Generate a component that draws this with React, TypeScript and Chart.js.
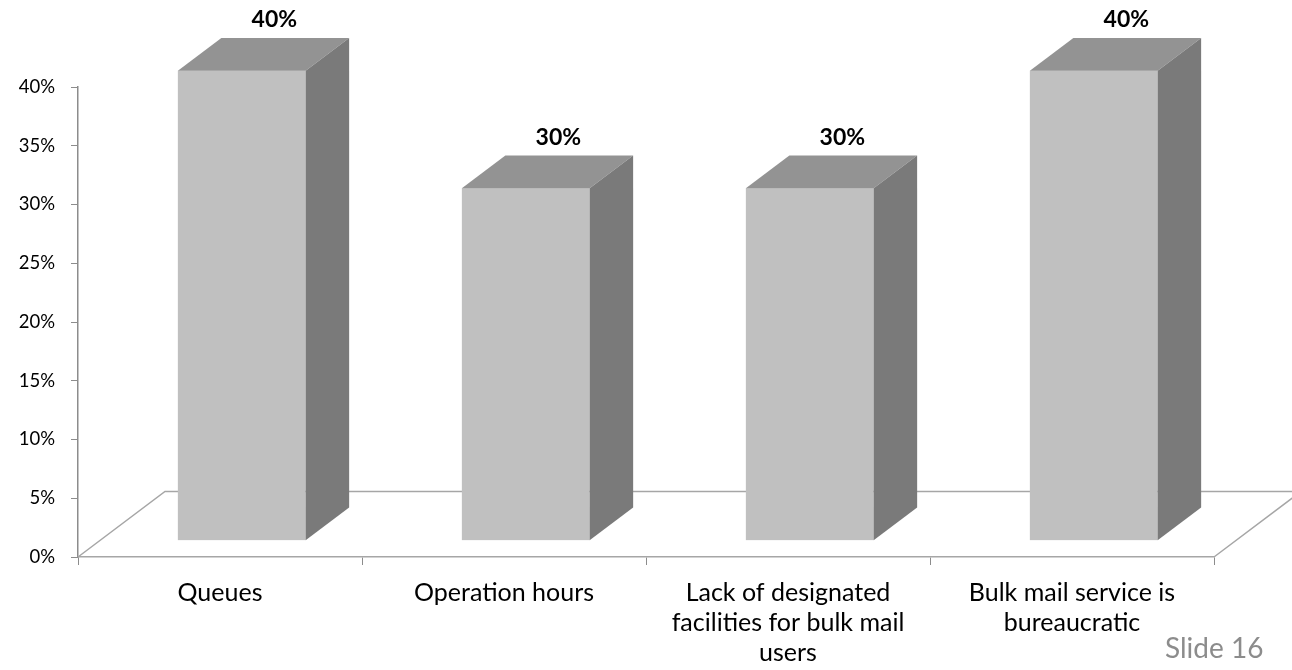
import React, { useEffect, useRef } from "react";
import { Chart, registerables } from "chart.js";

Chart.register(...registerables);

// Chart content
const categories: string[][] = [
  ["Queues"],
  ["Operation hours"],
  ["Lack of designated", "facilities for bulk mail", "users"],
  ["Bulk mail service is", "bureaucratic"],
];
const shares: number[] = [40, 30, 30, 40];
const yMin = 0;
const yMax = 40;
const yStep = 5;
const footerText = "Slide 16";

// Oblique projection of the floor depth and where the boxes sit inside it
const FLOOR_DEPTH = { dx: 87, dy: -65.5 };
const BOX_FRONT = 0.25; // fraction of floor depth before the front face
const BOX_DEPTH = 0.5; // fraction of floor depth taken by a box

const COLORS = {
  front: "#c0c0c0",
  top: "#939393",
  side: "#7a7a7a",
  floor: "#a6a6a6",
  axis: "#8c8c8c",
  text: "#000000",
};

const FONT = "Lato, 'Open Sans', sans-serif";

const box3dPlugin = {
  id: "box3d",
  beforeDatasetsDraw(chart: any) {
    const { ctx, chartArea } = chart;
    const { left, right, bottom } = chartArea;
    const { dx, dy } = FLOOR_DEPTH;
    ctx.save();
    ctx.strokeStyle = COLORS.floor;
    ctx.lineWidth = 1.5;
    ctx.beginPath();
    ctx.moveTo(left, bottom);
    ctx.lineTo(left + dx, bottom + dy);
    ctx.lineTo(right + dx, bottom + dy);
    ctx.lineTo(right, bottom);
    ctx.stroke();
    ctx.restore();
  },
  afterDatasetsDraw(chart: any) {
    const { ctx } = chart;
    const meta = chart.getDatasetMeta(0);
    const sx = FLOOR_DEPTH.dx * BOX_FRONT;
    const sy = FLOOR_DEPTH.dy * BOX_FRONT;
    const bdx = FLOOR_DEPTH.dx * BOX_DEPTH;
    const bdy = FLOOR_DEPTH.dy * BOX_DEPTH;
    ctx.save();
    meta.data.forEach((el: any, i: number) => {
      const { x, y, base, width } = el.getProps(["x", "y", "base", "width"], true);
      const l = x - width / 2 + sx;
      const r = x + width / 2 + sx;
      const t = y + sy;
      const b = base + sy;

      // front face
      ctx.fillStyle = COLORS.front;
      ctx.fillRect(l, t, r - l, b - t);

      // top face
      ctx.fillStyle = COLORS.top;
      ctx.beginPath();
      ctx.moveTo(l, t);
      ctx.lineTo(l + bdx, t + bdy);
      ctx.lineTo(r + bdx, t + bdy);
      ctx.lineTo(r, t);
      ctx.closePath();
      ctx.fill();

      // side face
      ctx.fillStyle = COLORS.side;
      ctx.beginPath();
      ctx.moveTo(r, t);
      ctx.lineTo(r + bdx, t + bdy);
      ctx.lineTo(r + bdx, b + bdy);
      ctx.lineTo(r, b);
      ctx.closePath();
      ctx.fill();

      // value label
      ctx.fillStyle = COLORS.text;
      ctx.font = `bold 23px ${FONT}`;
      ctx.textAlign = "center";
      ctx.textBaseline = "middle";
      ctx.fillText(`${shares[i]}%`, (l + r) / 2 + bdx * 0.75, t + bdy - 18);
    });
    ctx.restore();
  },
};

export default function App() {
  const canvasRef = useRef<HTMLCanvasElement | null>(null);

  useEffect(() => {
    if (!canvasRef.current) return;
    const chart = new Chart(canvasRef.current, {
      type: "bar",
      data: {
        labels: categories,
        datasets: [
          {
            data: shares,
            backgroundColor: "rgba(0,0,0,0)",
            borderWidth: 0,
            barPercentage: 0.45,
            categoryPercentage: 1,
          },
        ],
      },
      options: {
        animation: false,
        responsive: true,
        maintainAspectRatio: false,
        layout: { padding: { top: 87, right: 78, left: 0, bottom: 0 } },
        plugins: {
          legend: { display: false },
          tooltip: { enabled: false },
        },
        scales: {
          x: {
            afterFit(scale: any) {
              scale.height = 113;
            },
            border: { display: true, color: COLORS.floor, width: 1.5 },
            grid: {
              offset: true,
              drawOnChartArea: false,
              drawTicks: true,
              tickLength: 8,
              color: COLORS.axis,
            },
            ticks: {
              autoSkip: false,
              maxRotation: 0,
              padding: 13,
              color: COLORS.text,
              font: { family: FONT, size: 25, lineHeight: 1.2 },
            },
          },
          y: {
            min: yMin,
            max: yMax,
            afterFit(scale: any) {
              scale.width = 78;
            },
            border: { display: true, color: COLORS.axis, width: 1.5 },
            grid: {
              drawOnChartArea: false,
              drawTicks: true,
              tickLength: 7,
              color: COLORS.axis,
            },
            ticks: {
              stepSize: yStep,
              padding: 16,
              color: COLORS.text,
              font: { family: FONT, size: 18.5 },
              callback: (v: any) => `${v}%`,
            },
          },
        },
      },
      plugins: [box3dPlugin],
    });
    return () => chart.destroy();
  }, []);

  return (
    <div
      style={{
        position: "fixed",
        left: 0,
        top: 0,
        width: 1292,
        height: 670,
        background: "#ffffff",
      }}
    >
      <canvas ref={canvasRef} />
      <div
        style={{
          position: "absolute",
          left: 1165,
          top: 632,
          fontFamily: FONT,
          fontSize: 28,
          lineHeight: "30px",
          color: "#8c8c8c",
        }}
      >
        {footerText}
      </div>
    </div>
  );
}
